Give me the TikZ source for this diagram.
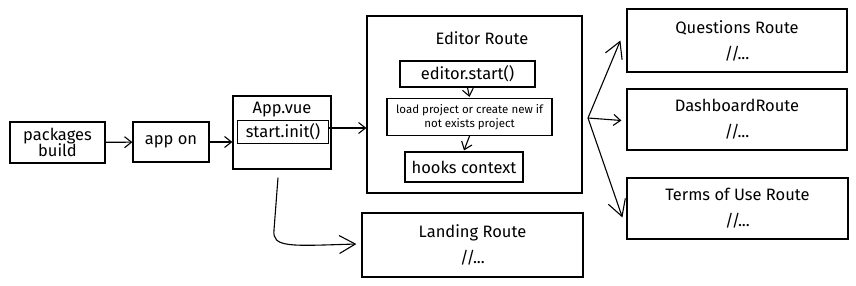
\documentclass[tikz,border=0pt]{standalone}
\usepackage{fontspec}
\setmainfont{Fira Sans}
\usetikzlibrary{arrows.meta}
\usetikzlibrary{positioning}
\tikzset{>=latex}
\tikzstyle{box} = [rectangle, draw = black, line width = 1.2pt, inner sep = 2, align = center]
\tikzstyle{txt} = [font = \fontsize{16.5}{19}\selectfont]
\tikzstyle{tiny} = [font = \fontsize{11.5}{14}\selectfont]
\tikzstyle{arr} = [line width = 1.1pt, -{Straight Barb[length = 7pt, width = 11pt]}]
\tikzstyle{bigarr} = [line width = 1.1pt, -{Straight Barb[length = 16pt, width = 18pt]}]

\begin{document}
\begin{tikzpicture}[x = 1pt, y = -1pt]
\useasboundingbox (0, 0) rectangle (856, 286);
% left chain
\node [box, txt, minimum width = 95pt, minimum height = 41pt] (pkg) at (57.5, 142.5) {packages\\[-3pt]build};
\node [box, txt, minimum width = 76pt, minimum height = 40pt] (app) at (171, 142) {app on};
\node [box, minimum width = 98pt, minimum height = 73pt] (vue) at (282, 132.5) {};
\node [txt] (vuet) at (282, 110) {App.vue};
\node [box, txt, minimum width = 91pt, minimum height = 23pt, inner sep = 1] (init) at (283, 132) {start.init()};
% editor route
\node [box, minimum width = 215pt, minimum height = 177pt] (ed) at (474.5, 104.5) {};
\node [txt] (edt) at (482, 38) {Editor Route};
\node [box, txt, minimum width = 135pt, minimum height = 26pt] (start) at (467.5, 74) {editor.start()};
\node [box, tiny, minimum width = 165pt, minimum height = 37pt] (load) at (469.5, 117) {load project or create new if\\not exists project};
\node [box, txt, minimum width = 118pt, minimum height = 30pt] (hooks) at (464, 167) {hooks context};
% landing route
\node [box, txt, minimum width = 221pt, minimum height = 64pt] (land) at (472.5, 245) {Landing Route\\[7pt]//...};
% routes on the right
\node [box, txt, minimum width = 220pt, minimum height = 63pt] (quest) at (737, 40.5) {Questions Route\\[7pt]//...};
\node [box, txt, minimum width = 220pt, minimum height = 61pt] (dash) at (737, 119.5) {DashboardRoute\\[7pt]//...};
\node [box, txt, minimum width = 221pt, minimum height = 61pt] (terms) at (737.5, 208.5) {Terms of Use Route\\[7pt]//...};
\coordinate (fan) at (588, 118);
\draw [arr] (pkg) to (app);
\draw [arr] (app.east) to (app.east -| vue.west);
\draw [arr] ([yshift = 4pt]init.east) to ([yshift = 4pt]init.east -| ed.west);
\draw [arr] (start.south) to ([yshift = 1pt]load.north);
\draw [arr] (load.south) to ([yshift = 1pt]hooks.north);
\draw [bigarr] (fan) to ([xshift = -6pt]quest.west);
\draw [arr] (fan) to ([xshift = -5pt, yshift = -1pt]dash.west);
\draw [bigarr] (fan) to ([xshift = -4pt, yshift = -9pt]terms.west);
\draw [bigarr] ([xshift = -4pt, yshift = -8pt]vue.south) to (274, 230) .. controls (272, 248) and (290, 246) .. ([xshift = -5pt, yshift = 1pt]land.west);
\end{tikzpicture}
\end{document}
